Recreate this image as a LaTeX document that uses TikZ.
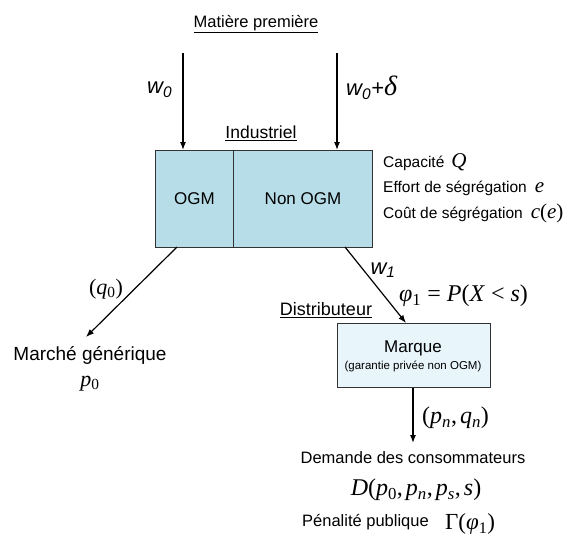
\documentclass[tikz,border=0pt]{standalone}
\usepackage{fontspec}
\setmainfont{Liberation Sans}
\newfontfamily\tms{Liberation Serif}
\usetikzlibrary{arrows.meta}
\definecolor{indblue}{HTML}{B7DDE8}
\definecolor{marqblue}{HTML}{E8F5FB}
\tikzset{
  arr/.style={-{Latex[length=8pt,width=6pt]}, line width=1.2pt},
  lbl/.style={inner sep=0pt, font=\fontsize{16.5}{19}\selectfont},
  mth/.style={inner sep=0pt, font=\fontsize{24}{26}\selectfont\tms\itshape},
  wlbl/.style={inner sep=0pt, font=\fontsize{22}{24}\selectfont\itshape},
  boxst/.style={draw=black!80, line width=1pt, inner sep=0pt, anchor=north west}
}
\begin{document}
\begin{tikzpicture}[x=1pt,y=-1pt]
\useasboundingbox (0,0) rectangle (586,538);
% Industriel box
\node[boxst, fill=indblue, minimum width=78pt, minimum height=97pt] (ogm) at (155,150) {};
\node[boxst, fill=indblue, minimum width=139pt, minimum height=97pt] (non) at (233,150) {};
\node[lbl, font=\fontsize{17}{19}\selectfont] (ogmt) at (ogm.center) {OGM};
\node[lbl, font=\fontsize{17}{19}\selectfont] (nont) at (non.center) {Non OGM};
% top
\node[lbl] (mp) at (256,24) {\underline{Matière première}};
\node[lbl, font=\fontsize{17.5}{19}\selectfont] (ind) at (261,133) {\underline{Industriel}};
\coordinate (a1) at (183,53);
\coordinate (a2) at (337,53);
\draw[arr] (a1) -- (a1 |- ogm.north);
\draw[arr] (a2) -- (a2 |- non.north);
\node[wlbl, anchor=west] (w0) at (147,90) {w\textsubscript{0}};
\node[wlbl, anchor=west] (w0d) at (346,88) {w\textsubscript{0}+{\tms\fontsize{28}{28}\selectfont δ}};
% right texts
\node[lbl, anchor=west, font=\fontsize{15.5}{18}\selectfont] (cap) at (383,162) {Capacité\hspace{7pt}{\tms\itshape\fontsize{21}{22}\selectfont Q}};
\node[lbl, anchor=west, font=\fontsize{15.5}{18}\selectfont] (eff) at (383,188) {Effort de ségrégation\hspace{8pt}{\tms\itshape\fontsize{21}{22}\selectfont e}};
\node[lbl, anchor=west, font=\fontsize{15.5}{18}\selectfont] (cout) at (383,213) {Coût de ségrégation\hspace{8pt}{\tms\fontsize{21}{22}\selectfont\textit{c}(\textit{e})}};
% left branch
\coordinate (s1) at (177,247);
\coordinate (e1) at (86,337);
\draw[arr] (s1) -- (e1);
\node[mth, font=\fontsize{22}{24}\selectfont\tms\itshape] (q0) at (106,289) {\upshape(\textit{q}\textsubscript{\upshape 0})};
\node[lbl, font=\fontsize{19}{21}\selectfont] (mg) at (90,355) {Marché générique};
\node[mth, font=\fontsize{22}{24}\selectfont\tms\itshape] (p0) at (90,384) {p\textsubscript{\upshape 0}};
% right branch
\node[boxst, fill=marqblue, minimum width=153pt, minimum height=64pt] (mq) at (337,323) {};
\node[lbl, font=\fontsize{17}{19}\selectfont] (mqt) at (413,348) {Marque};
\node[lbl, font=\fontsize{11.5}{13}\selectfont] (mqg) at (413,366) {(garantie privée non OGM)};
\coordinate (s2) at (345,247);
\coordinate (e2) at (406,323);
\draw[arr] (s2) -- (e2);
\node[wlbl] (w1) at (383,270) {w\textsubscript{1}};
\node[mth, anchor=west] (phi) at (399,296) {φ\textsubscript{\upshape 1}\upshape\ = \textit{P}(\textit{X} < \textit{s})};
\node[lbl, font=\fontsize{18}{20}\selectfont] (dist) at (326,310) {\underline{Distributeur}};
% bottom
\coordinate (e3) at (413,443);
\draw[arr] (mq.south -| e3) -- (e3);
\node[mth, anchor=west] (pq) at (422,418) {\upshape(\textit{p\textsubscript{n}},\kern3pt\textit{q\textsubscript{n}})};
\node[lbl] (dem) at (413,458) {Demande des consommateurs};
\node[mth] (D) at (416,490) {D\upshape(\textit{p}\textsubscript{0},\kern3pt\textit{p\textsubscript{n}},\kern3pt\textit{p\textsubscript{s}},\kern3pt\textit{s})};
\node[lbl, anchor=west] (pen) at (302,522) {Pénalité publique};
\node[mth, anchor=west, font=\fontsize{23}{24}\selectfont\tms] (gam) at (445,524) {Γ(\textit{φ}\textsubscript{1})};
\end{tikzpicture}
\end{document}
